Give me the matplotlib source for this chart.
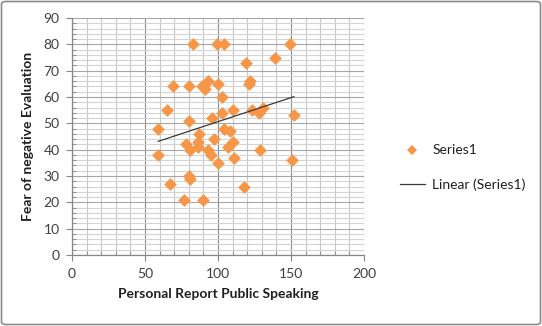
import numpy as np
import matplotlib
matplotlib.use("Agg")
import matplotlib.pyplot as plt
from matplotlib.patches import FancyBboxPatch
from matplotlib.lines import Line2D
from matplotlib.ticker import MultipleLocator

plt.rcParams['font.family'] = ['Lato', 'DejaVu Sans']

# Data
prps = [83, 99, 104, 149, 139, 119, 122, 121, 69, 80, 89, 93, 91, 100, 103,
        65, 103, 110, 123, 128, 131, 152, 80, 96, 59, 87, 104, 108,
        78, 86, 86, 97, 93, 95, 100, 107, 110, 111, 59, 81, 129, 151,
        67, 80, 81, 118, 77, 90]
fne = [80, 80, 80, 80, 75, 73, 66, 65, 64, 64, 64, 66, 63, 65, 60,
       55, 54, 55, 55, 54, 56, 53, 51, 52, 48, 46, 48, 47,
       42, 43, 41, 44, 40, 38, 35, 41, 43, 37, 38, 40, 40, 36,
       27, 30, 29, 26, 21, 21]

series_name = "Series1"
trend_name = "Linear (Series1)"
x_label = "Personal Report Public Speaking"
y_label = "Fear of negative Evaluation"

W, H = 542, 326
fig = plt.figure(figsize=(W / 100, H / 100), dpi=100)
ax = fig.add_axes([72 / W, 1 - 255 / H, (364 - 72) / W, (255 - 18) / H])

x = np.array(prps, dtype=float)
y = np.array(fne, dtype=float)

orange = '#F79646'
ax.scatter(x, y, marker='D', s=6.5 ** 2, color=orange, linewidths=0, zorder=3)

m, b = np.polyfit(x, y, 1)
xx = np.array([x.min(), x.max()])
ax.plot(xx, m * xx + b, color='#3a3a3a', lw=0.9, zorder=4)

ax.set_xlim(0, 200)
ax.set_ylim(0, 90)
ax.xaxis.set_major_locator(MultipleLocator(50))
ax.xaxis.set_minor_locator(MultipleLocator(10))
ax.yaxis.set_major_locator(MultipleLocator(10))
ax.yaxis.set_minor_locator(MultipleLocator(2))

ax.grid(which='major', axis='x', color='#8c8c8c', lw=0.8)
ax.grid(which='minor', axis='x', color='#c8c8c8', lw=0.8)
ax.grid(which='major', axis='y', color='#a6a6a6', lw=0.8)
ax.grid(which='minor', axis='y', color='#d4d4d4', lw=0.8)
ax.set_axisbelow(True)

for s in ['top', 'right']:
    ax.spines[s].set_visible(False)
for s in ['left', 'bottom']:
    ax.spines[s].set_color('#868686')
    ax.spines[s].set_linewidth(0.9)

ax.tick_params(which='major', direction='out', length=4, color='#868686',
               labelsize=10, labelcolor='#404040', pad=5)
ax.tick_params(which='minor', direction='in', length=3, color='#868686')

ax.set_xlabel(x_label, fontsize=10, fontweight='bold', color='#202020', labelpad=6)
ax.set_ylabel(y_label, fontsize=10, fontweight='bold', color='#202020', labelpad=7)

handles = [Line2D([], [], marker='D', color=orange, ls='none', markersize=5.5, markeredgewidth=0),
           Line2D([], [], color='#3a3a3a', lw=0.9)]
fig.legend(handles, [series_name, trend_name], loc='upper left',
           bbox_to_anchor=(387 / W, 1 - 132 / H), frameon=False, fontsize=10,
           handlelength=1.8, handletextpad=0.55, labelspacing=1.55, labelcolor='#202020')

border = FancyBboxPatch((1.5 / W, 1.5 / H), (W - 3) / W, (H - 3) / H,
                        boxstyle='round,pad=0,rounding_size=0.008',
                        transform=fig.transFigure, fill=False,
                        edgecolor='#8a8a8a', lw=1.2)
fig.patches.append(border)

fig.savefig('out.png', dpi=100)
